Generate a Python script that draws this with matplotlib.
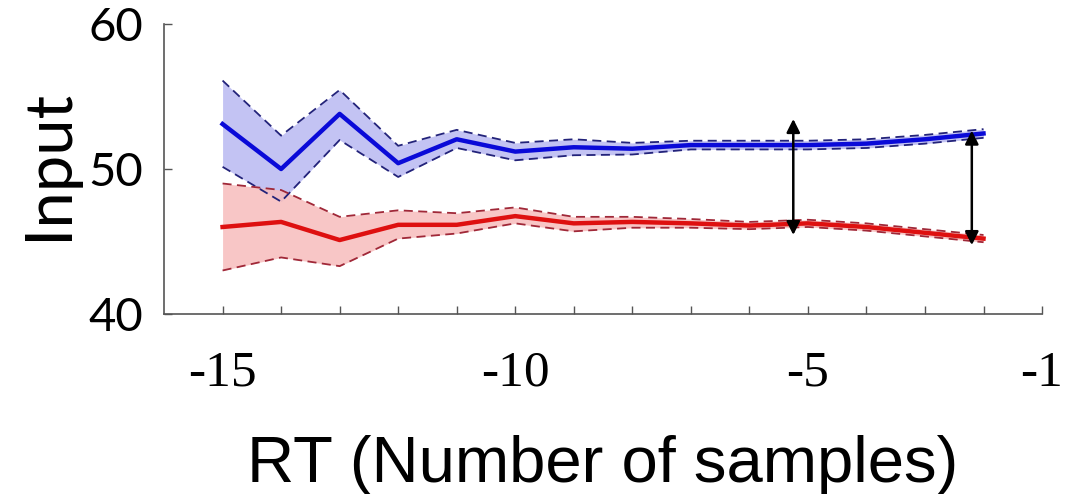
import numpy as np
import matplotlib.pyplot as plt

# RT relative to decision (samples)
rt = [-15, -14, -13, -12, -11, -10, -9, -8, -7, -6, -5, -4, -3, -2]

blue_mean = [53.1, 50.0, 53.8, 50.4, 52.05, 51.2, 51.5, 51.4, 51.65, 51.65, 51.65, 51.75, 52.05, 52.45]
blue_upper = [56.1, 52.3, 55.45, 51.6, 52.7, 51.8, 52.05, 51.8, 51.95, 51.95, 51.95, 52.05, 52.35, 52.75]
blue_lower = [50.15, 47.75, 52.0, 49.45, 51.45, 50.6, 50.95, 51.0, 51.35, 51.35, 51.35, 51.45, 51.75, 52.15]

red_mean = [46.0, 46.35, 45.1, 46.15, 46.15, 46.75, 46.25, 46.35, 46.25, 46.1, 46.25, 46.0, 45.6, 45.2]
red_upper = [49.0, 48.55, 46.7, 47.15, 46.95, 47.35, 46.7, 46.7, 46.55, 46.35, 46.5, 46.25, 45.85, 45.45]
red_lower = [43.0, 43.9, 43.3, 45.2, 45.55, 46.25, 45.7, 45.95, 45.95, 45.85, 46.0, 45.75, 45.35, 44.95]

# difference arrows: (x, top, bottom)
arrow_x = [-5.25, -2.2]
arrow_top = [53.45, 52.65]
arrow_bottom = [45.45, 44.75]

xtick_pos = list(range(-15, 0))
xtick_lab = ['-15', '', '', '', '', '-10', '', '', '', '', '-5', '', '', '', '-1']
ytick_pos = [40, 50, 60]

fig = plt.figure(figsize=(10.68, 4.94), dpi=100)
ax = fig.add_axes([0.1536, 0.3644, 0.8221, 0.587])

ax.fill_between(rt, blue_lower, blue_upper, color='#b9b9f2', lw=0, alpha=0.85)
ax.fill_between(rt, red_lower, red_upper, color='#f7bcbc', lw=0, alpha=0.85)

ax.plot(rt, blue_upper, ls=(0, (5, 3)), color='#23237a', lw=1.3)
ax.plot(rt, blue_lower, ls=(0, (5, 3)), color='#23237a', lw=1.3)
ax.plot(rt, red_upper, ls=(0, (5, 3)), color='#a02838', lw=1.3)
ax.plot(rt, red_lower, ls=(0, (5, 3)), color='#a02838', lw=1.3)

ax.plot(rt, blue_mean, color='#0a0ad8', lw=3.2)
ax.plot(rt, red_mean, color='#de1010', lw=3.2)

for x, t, b in zip(arrow_x, arrow_top, arrow_bottom):
    ax.annotate('', xy=(x, t), xytext=(x, b),
                arrowprops=dict(arrowstyle='<|-|>', color='black', lw=1.8,
                                mutation_scale=20, shrinkA=0, shrinkB=0))

ax.set_xlim(-16, -1)
ax.set_ylim(40, 60)
ax.spines['top'].set_visible(False)
ax.spines['right'].set_visible(False)
for s in ['left', 'bottom']:
    ax.spines[s].set_color('#555555')
    ax.spines[s].set_linewidth(1.2)

ax.set_xticks(xtick_pos)
ax.set_xticklabels(xtick_lab, family='Liberation Serif', fontsize=37)
ax.set_yticks(ytick_pos)
ax.set_yticklabels([str(v) for v in ytick_pos], family='Lato', fontsize=34)
ax.tick_params(axis='x', direction='in', length=6, width=1, color='#555555', pad=26)
ax.tick_params(axis='y', direction='in', length=6, width=1, color='#555555', pad=15)
for lab in ax.get_yticklabels():
    lab.set_y(lab.get_position()[1])

ax.set_ylabel('Input', family='Lato', fontsize=47)
ax.yaxis.label.set_va('baseline')
ax.yaxis.set_label_coords(-0.1105, 0.514)

ax.set_xlabel('RT (Number of samples)', family='Liberation Sans', fontsize=47)
ax.xaxis.label.set_va('baseline')
ax.xaxis.set_label_coords(0.5, -0.579)

fig.savefig('out.png', dpi=100)
